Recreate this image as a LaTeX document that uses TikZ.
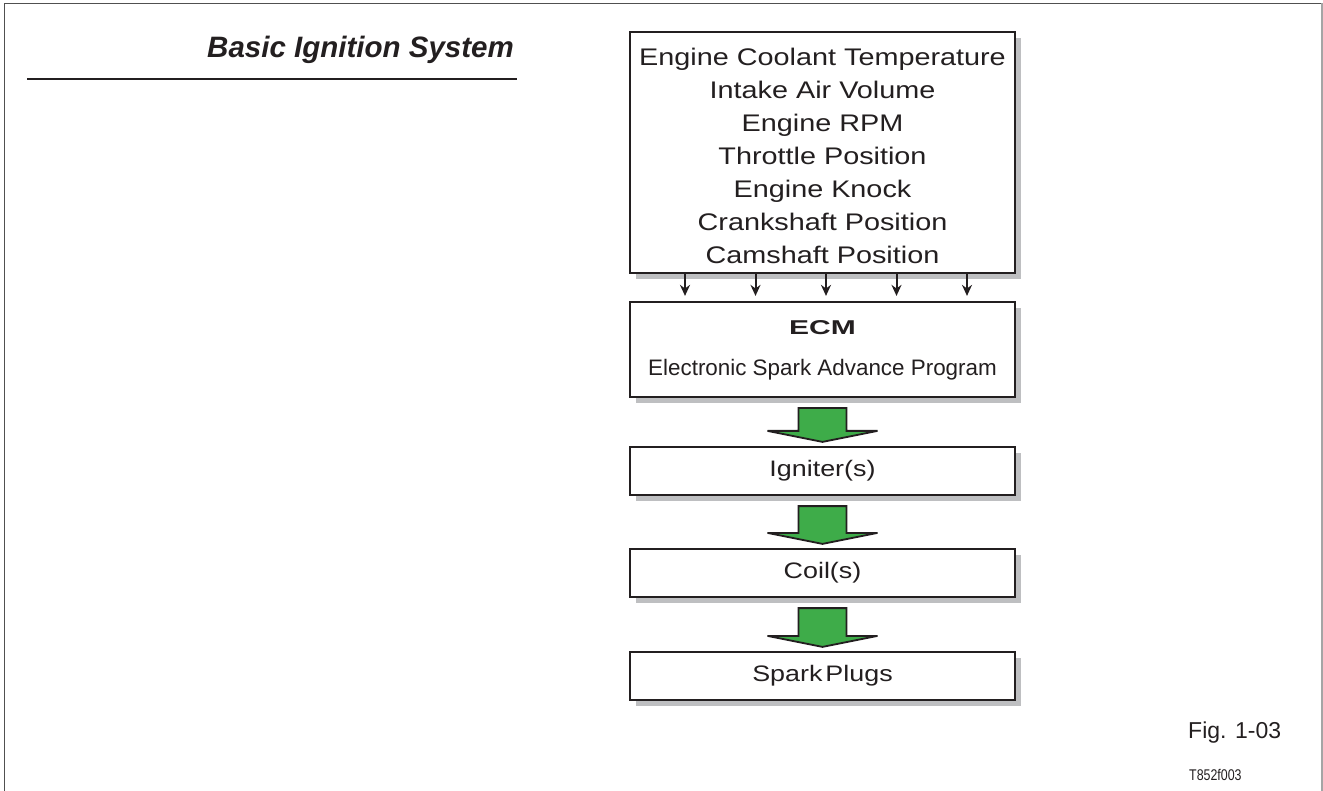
\documentclass[tikz,border=0pt]{standalone}
\usepackage{fontspec}
\setmainfont{Liberation Sans}
\newfontfamily\rfont{Liberation Sans}[FakeStretch=1.2]
\newfontfamily\ecmfont{Liberation Sans}[FakeStretch=1.5]
\newfontfamily\condfont{Liberation Sans}[FakeStretch=0.8]
\usetikzlibrary{shadows,calc,arrows.meta}
\definecolor{ink}{RGB}{35,31,32}
\definecolor{shgray}{RGB}{190,191,193}
\definecolor{agreen}{RGB}{62,172,73}
\definecolor{framedark}{RGB}{80,80,80}
\definecolor{framelight}{RGB}{165,165,165}
\newcommand{\greenarrow}[2]{%
  \draw[garrow] ($(#1.south)+(-24,10)$) -- ($(#1.south)+(24,10)$)
    -- ($(#2.north)+(24,-15)$) -- ($(#2.north)+(55,-15)$)
    -- ($(#2.north)+(0,-4)$) -- ($(#2.north)+(-55,-15)$)
    -- ($(#2.north)+(-24,-15)$) -- cycle;}
\begin{document}
\begin{tikzpicture}[x=1pt,y=-1pt,
  box/.style={draw=ink, line width=2.2pt, fill=white, minimum width=385pt,
    inner sep=0pt, text=ink,
    drop shadow={shadow xshift=6pt, shadow yshift=-6pt, fill=shgray, opacity=1, draw=none}},
  lbl/.style={font=\rfont\fontsize{22.4}{26}\selectfont},
  txt/.style={text=ink, inner sep=0pt},
  garrow/.style={draw=ink, fill=agreen, line width=1.8pt, line join=miter},
  sarrow/.style={draw=ink, line width=2pt, -{Stealth[length=11pt,width=10pt]}},
  frameline/.style={line width=1.5pt}]
\useasboundingbox (0,0) rectangle (1323,791);
% frame
\draw[frameline, draw=framedark] (4.5,791) -- (4.5,3.5) -- (1323,3.5);
\draw[line width=1.2pt, draw=framelight] (1322,3.5) -- (1322,791);
% title
\node[txt, font=\bfseries\itshape\fontsize{29.5}{32}\selectfont, anchor=base east] (title) at (514,58) {Basic Ignition System};
\draw[draw=ink, line width=2pt] (27,79) -- (517,79);
% boxes
\node[box, minimum height=241pt] (inputs) at (822.5,152.5) {};
\node[txt, align=center, font=\rfont\fontsize{24}{33}\selectfont] (inlist) at (822.5,156)
  {Engine Coolant Temperature\\Intake Air Volume\\Engine RPM\\Throttle Position\\Engine Knock\\Crankshaft Position\\Camshaft Position};
\node[box, minimum height=95pt] (ecm) at (822.5,349.5) {};
\node[txt, font=\ecmfont\bfseries\fontsize{20}{22}\selectfont] (ecmt) at (822.5,328) {ECM};
\node[txt, font=\fontsize{22.4}{26}\selectfont] (esap) at (822.5,370) {Electronic Spark Advance Program};
\node[box, minimum height=48pt, lbl] (ign) at (822.5,471) {Igniter(s)};
\node[box, minimum height=48pt, lbl] (coil) at (822.5,573) {Coil(s)};
\node[box, minimum height=48pt, lbl] (spark) at (822.5,676) {{\spaceskip=3pt Spark Plugs}};
% small arrows
\foreach \dx in {-137.5,-67,3.5,74,144.5}
  \draw[sarrow] ($(inputs.south)+(\dx,0)$) -- ($(ecm.north)+(\dx,-5)$);
% green arrows
\greenarrow{ecm}{ign}
\greenarrow{ign}{coil}
\greenarrow{coil}{spark}
% figure labels
\node[txt, anchor=west, font=\fontsize{23}{26}\selectfont] (fig) at (1188,733) {Fig. 1-03};
\node[txt, anchor=west, font=\condfont\fontsize{15.5}{18}\selectfont] (code) at (1189,775) {T852f003};
\end{tikzpicture}
\end{document}
